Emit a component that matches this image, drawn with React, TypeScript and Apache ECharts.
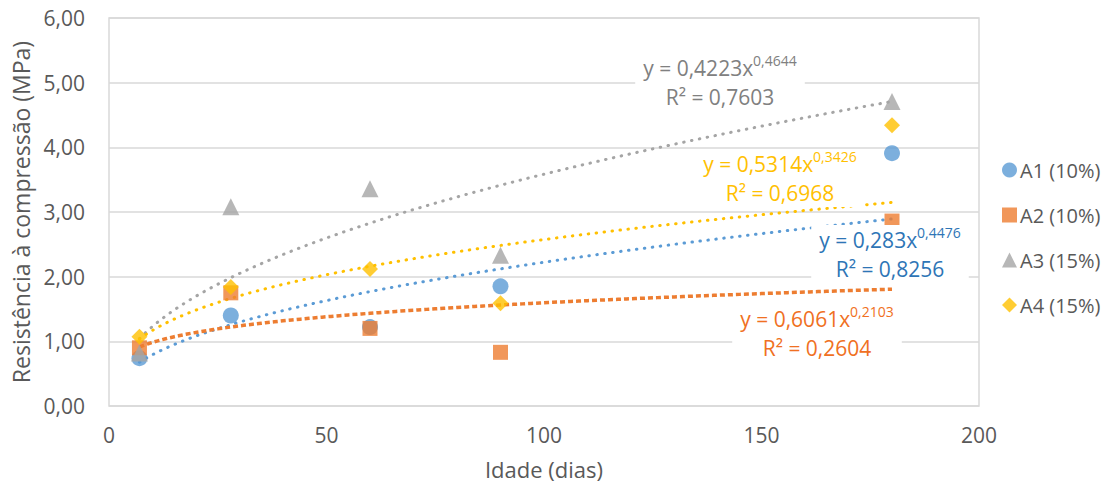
import React, { useEffect, useRef } from "react";
import * as echarts from "echarts";

const days = [7, 28, 60, 90, 180];
const seriesNames = ["A1 (10%)", "A2 (10%)", "A3 (15%)", "A4 (15%)"];
const a1 = [0.74, 1.4, 1.22, 1.85, 3.91];
const a2 = [0.9, 1.75, 1.2, 0.83, 2.86];
const a3 = [0.82, 3.08, 3.36, 2.33, 4.71];
const a4 = [1.07, 1.84, 2.12, 1.59, 4.34];
const colors = ["#5B9BD5", "#ED7D31", "#A5A5A5", "#FFC000"];
const labelColors = ["#2E75B6", "#F07022", "#808080", "#FFC000"];
const symbols = ["circle", "rect", "triangle", "diamond"];
// power trendline coefficients y = a * x^b
const trendA = [0.283, 0.6061, 0.4223, 0.5314];
const trendB = [0.4476, 0.2103, 0.4644, 0.3426];
const eqTexts = ["0,283", "0,6061", "0,4223", "0,5314"];
const expTexts = ["0,4476", "0,2103", "0,4644", "0,3426"];
const r2Texts = ["0,8256", "0,2604", "0,7603", "0,6968"];
const yTicks = [0, 1, 2, 3, 4, 5, 6];

const FONT = "'Open Sans', sans-serif";
const TEXT = "#595959";

export default function App() {
  const ref = useRef<HTMLDivElement>(null);
  useEffect(() => {
    if (!ref.current) return;
    document.body.style.margin = "0";
    document.body.style.overflow = "hidden";
    const chart = echarts.init(ref.current, null, { renderer: "svg" });
    const values = [a1, a2, a3, a4];

    const trendSeries = values.map((_, i) => {
      const pts: number[][] = [];
      for (let x = days[0]; x <= days[days.length - 1]; x += 1) {
        pts.push([x, trendA[i] * Math.pow(x, trendB[i])]);
      }
      const dashed = i === 1;
      return {
        type: "line",
        name: "trend" + i,
        data: pts,
        showSymbol: false,
        symbol: "none",
        silent: true,
        z: 1,
        lineStyle: {
          color: colors[i],
          width: dashed ? 3.5 : 3,
          type: dashed ? [5, 3] : [0.5, 7.5],
          cap: dashed ? "butt" : "round",
        },
      };
    });

    const scatterSeries = values.map((v, i) => ({
      type: "scatter",
      name: seriesNames[i],
      data: v.map((y, j) => [days[j], y]),
      symbol: symbols[i],
      symbolSize: i === 1 ? 15 : i === 2 ? 17 : 16,
      itemStyle: { color: colors[i] },
      z: 3,
    }));

    // label positions [centerX, centerY]
    const labelPos = [
      [890, 254],
      [817, 333],
      [720, 82],
      [780, 178],
    ];

    const graphics = labelPos.map((p, i) => ({
      type: "text",
      x: p[0],
      y: p[1],
      z: 10,
      style: {
        text: `{a|y = ${eqTexts[i]}x}{s|${expTexts[i]}}\n{a|R² = ${r2Texts[i]}}`,
        align: "center",
        verticalAlign: "middle",
        backgroundColor: "#ffffff",
        padding: [0, 8, 0, 8],
        rich: {
          a: { fontSize: 21, fontFamily: FONT, fill: labelColors[i], lineHeight: 29 },
          s: { fontSize: 14, fontFamily: FONT, fill: labelColors[i], lineHeight: 25, verticalAlign: "top" },
        },
      },
    }));

    chart.setOption({
      animation: false,
      backgroundColor: "#ffffff",
      grid: {
        left: 109,
        right: 131,
        top: 18,
        bottom: 80,
        show: true,
        borderColor: "#D9D9D9",
        borderWidth: 1.5,
      },
      xAxis: {
        type: "value",
        min: 0,
        max: 200,
        interval: 50,
        name: "Idade (dias)",
        nameLocation: "middle",
        nameGap: 52,
        nameTextStyle: { fontSize: 22, fontFamily: FONT, color: TEXT },
        axisLine: { show: false },
        axisTick: { show: false },
        splitLine: { show: false },
        axisLabel: { fontSize: 21, fontFamily: FONT, color: TEXT, margin: 18 },
      },
      yAxis: {
        type: "value",
        min: yTicks[0],
        max: yTicks[yTicks.length - 1],
        interval: 1,
        name: "Resistência à compressão (MPa)",
        nameLocation: "middle",
        nameGap: 74,
        nameTextStyle: { fontSize: 23, fontFamily: FONT, color: TEXT },
        axisLine: { show: false },
        axisTick: { show: false },
        splitLine: { lineStyle: { color: "#D9D9D9", width: 1.5 } },
        axisLabel: {
          fontSize: 21,
          fontFamily: FONT,
          color: TEXT,
          margin: 24,
          formatter: (v: number) => v.toFixed(2).replace(".", ","),
        },
      },
      legend: {
        data: seriesNames.map((n, i) => ({ name: n, icon: symbols[i] })),
        orient: "vertical",
        left: 997,
        top: 155,
        itemWidth: 15,
        itemHeight: 15,
        itemGap: 25,
        textStyle: { fontSize: 20, fontFamily: FONT, color: TEXT, padding: [0, 0, 0, -2] },
      },
      series: [...trendSeries, ...scatterSeries],
      graphic: graphics,
    });
    return () => chart.dispose();
  }, []);
  return <div ref={ref} style={{ width: 1110, height: 486 }} />;
}
